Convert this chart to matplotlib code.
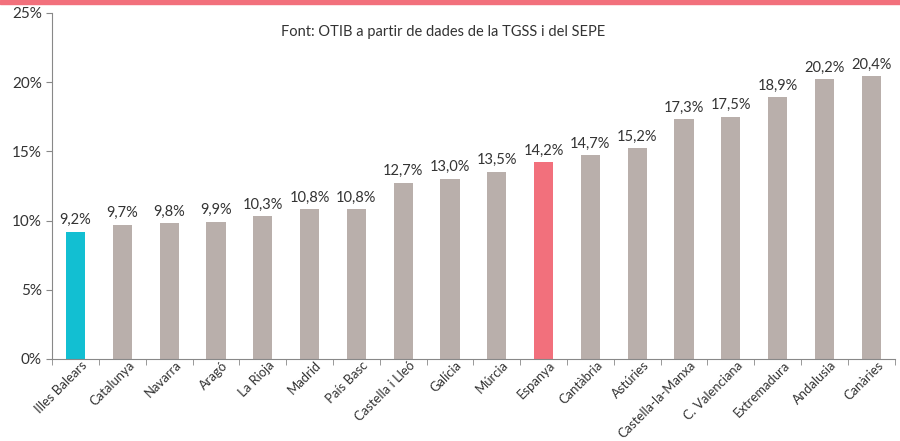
import numpy as np
import matplotlib.pyplot as plt
import matplotlib.transforms as mtransforms

regions = ['Illes Balears', 'Catalunya', 'Navarra', 'Aragó', 'La Rioja', 'Madrid',
           'País Basc', 'Castella i Lleó', 'Galícia', 'Múrcia', 'Espanya', 'Cantàbria',
           'Astúries', 'Castella-la-Manxa', 'C. Valenciana', 'Extremadura',
           'Andalusia', 'Canàries']
values = [9.2, 9.7, 9.8, 9.9, 10.3, 10.8, 10.8, 12.7, 13.0, 13.5, 14.2, 14.7,
          15.2, 17.3, 17.5, 18.9, 20.2, 20.4]
labels = ['9,2%', '9,7%', '9,8%', '9,9%', '10,3%', '10,8%', '10,8%', '12,7%', '13,0%',
          '13,5%', '14,2%', '14,7%', '15,2%', '17,3%', '17,5%', '18,9%', '20,2%', '20,4%']

grey = '#B9AFAB'
colors = [grey] * len(regions)
colors[0] = '#12BFD2'
colors[10] = '#F2707C'

plt.rcParams['font.family'] = ['Lato', 'DejaVu Sans']

fig = plt.figure(figsize=(9, 4.41), dpi=100)
ax = fig.add_axes([0.058, 0.186, 0.936, 0.785])

x = np.arange(len(regions))
ax.bar(x, values, width=0.41, color=colors, zorder=2)
for xi, v, l in zip(x, values, labels):
    ax.text(xi, v + 0.35, l, ha='center', va='bottom', fontsize=10.5, color='#333333')

ax.set_xlim(-0.5, len(regions) - 0.5)
ax.set_ylim(0, 25)
ax.set_yticks([0, 5, 10, 15, 20, 25])
ax.set_yticklabels(['0%', '5%', '10%', '15%', '20%', '25%'], fontsize=11, color='#333333')
ax.set_xticks(x)
ax.set_xticklabels(regions, rotation=45, ha='right', rotation_mode='anchor',
                   fontsize=9.4, color='#333333')
ax.tick_params(axis='x', length=0, pad=2)
shift = mtransforms.ScaledTranslation(4 / 72, 2 / 72, fig.dpi_scale_trans)
for lab in ax.get_xticklabels():
    lab.set_transform(lab.get_transform() + shift)
ax.set_xticks(np.arange(-0.5, len(regions), 1), minor=True)
ax.tick_params(axis='x', which='minor', length=4, color='#888888')
ax.tick_params(axis='y', length=4, color='#888888')

for s in ['top', 'right']:
    ax.spines[s].set_visible(False)
for s in ['left', 'bottom']:
    ax.spines[s].set_color('#888888')

ax.text(0.272, 0.945, 'Font: OTIB a partir de dades de la TGSS i del SEPE',
        transform=ax.transAxes, ha='left', va='center', fontsize=10.5, color='#333333')

# pink band at the top
fig.patches.append(plt.Rectangle((0, 0.99), 1, 0.01, transform=fig.transFigure,
                                 color='#F2707C', zorder=0))

fig.savefig('out.png', dpi=100)
